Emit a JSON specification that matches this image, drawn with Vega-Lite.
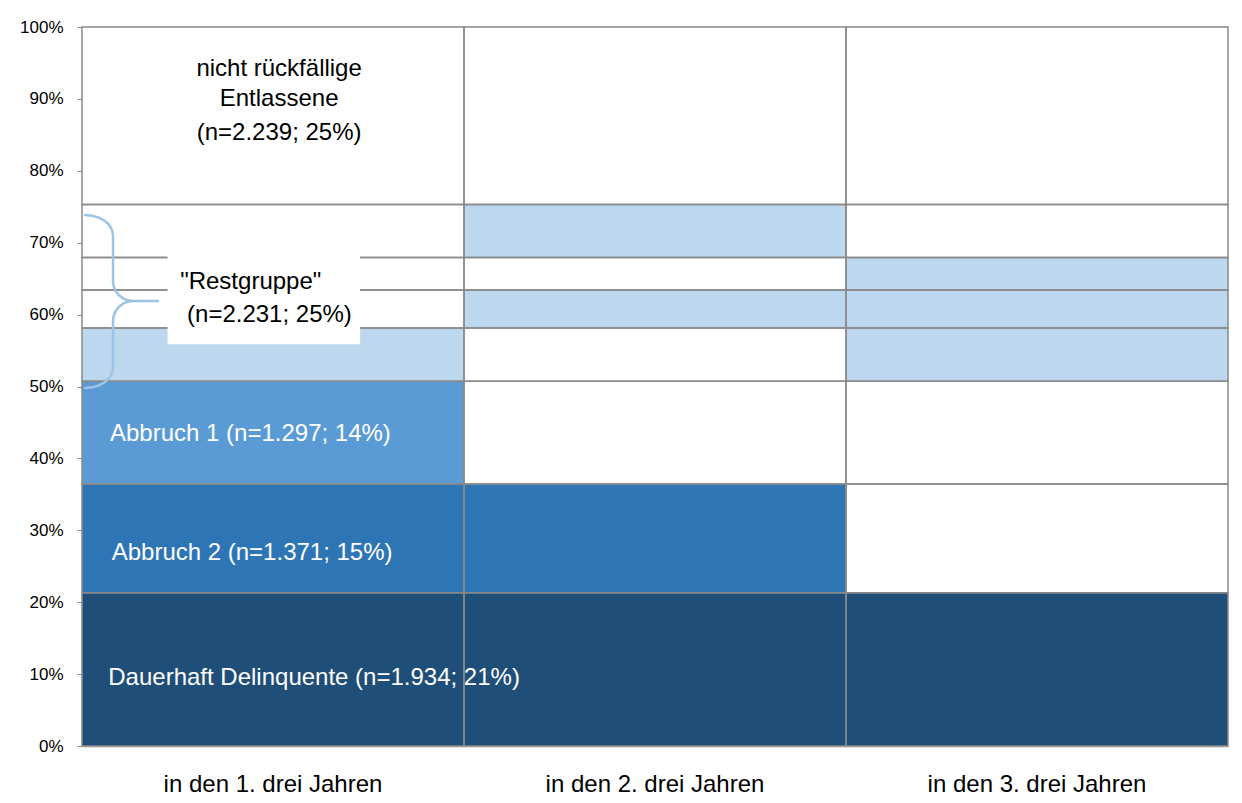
{
  "$schema": "https://vega.github.io/schema/vega-lite/v6.json",
  "width": 1146,
  "height": 719,
  "autosize": {"type": "none"},
  "padding": {"left": 82, "top": 27, "right": 14, "bottom": 57},
  "background": "#ffffff",
  "config": {"view": {"stroke": null}, "font": "Liberation Sans"},
  "datasets": {
    "segmente": [
      {"period": "in den 1. drei Jahren", "ord": 1, "gruppe": "Dauerhaft Delinquente", "anteil": 21.32, "status": "Dauerhaft Delinquente"},
      {"period": "in den 1. drei Jahren", "ord": 2, "gruppe": "Abbruch 2", "anteil": 15.11, "status": "Abbruch 2"},
      {"period": "in den 1. drei Jahren", "ord": 3, "gruppe": "Abbruch 1", "anteil": 14.30, "status": "Abbruch 1"},
      {"period": "in den 1. drei Jahren", "ord": 4, "gruppe": "Rest A", "anteil": 7.40, "status": "Restgruppe"},
      {"period": "in den 1. drei Jahren", "ord": 5, "gruppe": "Rest B", "anteil": 5.30, "status": "nicht rückfällig"},
      {"period": "in den 1. drei Jahren", "ord": 6, "gruppe": "Rest C", "anteil": 4.50, "status": "nicht rückfällig"},
      {"period": "in den 1. drei Jahren", "ord": 7, "gruppe": "Rest D", "anteil": 7.39, "status": "nicht rückfällig"},
      {"period": "in den 1. drei Jahren", "ord": 8, "gruppe": "nicht rückfällige Entlassene", "anteil": 24.68, "status": "nicht rückfällig"},
      {"period": "in den 2. drei Jahren", "ord": 1, "gruppe": "Dauerhaft Delinquente", "anteil": 21.32, "status": "Dauerhaft Delinquente"},
      {"period": "in den 2. drei Jahren", "ord": 2, "gruppe": "Abbruch 2", "anteil": 15.11, "status": "Abbruch 2"},
      {"period": "in den 2. drei Jahren", "ord": 3, "gruppe": "Abbruch 1", "anteil": 14.30, "status": "nicht rückfällig"},
      {"period": "in den 2. drei Jahren", "ord": 4, "gruppe": "Rest A", "anteil": 7.40, "status": "nicht rückfällig"},
      {"period": "in den 2. drei Jahren", "ord": 5, "gruppe": "Rest B", "anteil": 5.30, "status": "Restgruppe"},
      {"period": "in den 2. drei Jahren", "ord": 6, "gruppe": "Rest C", "anteil": 4.50, "status": "nicht rückfällig"},
      {"period": "in den 2. drei Jahren", "ord": 7, "gruppe": "Rest D", "anteil": 7.39, "status": "Restgruppe"},
      {"period": "in den 2. drei Jahren", "ord": 8, "gruppe": "nicht rückfällige Entlassene", "anteil": 24.68, "status": "nicht rückfällig"},
      {"period": "in den 3. drei Jahren", "ord": 1, "gruppe": "Dauerhaft Delinquente", "anteil": 21.32, "status": "Dauerhaft Delinquente"},
      {"period": "in den 3. drei Jahren", "ord": 2, "gruppe": "Abbruch 2", "anteil": 15.11, "status": "nicht rückfällig"},
      {"period": "in den 3. drei Jahren", "ord": 3, "gruppe": "Abbruch 1", "anteil": 14.30, "status": "nicht rückfällig"},
      {"period": "in den 3. drei Jahren", "ord": 4, "gruppe": "Rest A", "anteil": 7.40, "status": "Restgruppe"},
      {"period": "in den 3. drei Jahren", "ord": 5, "gruppe": "Rest B", "anteil": 5.30, "status": "Restgruppe"},
      {"period": "in den 3. drei Jahren", "ord": 6, "gruppe": "Rest C", "anteil": 4.50, "status": "Restgruppe"},
      {"period": "in den 3. drei Jahren", "ord": 7, "gruppe": "Rest D", "anteil": 7.39, "status": "nicht rückfällig"},
      {"period": "in den 3. drei Jahren", "ord": 8, "gruppe": "nicht rückfällige Entlassene", "anteil": 24.68, "status": "nicht rückfällig"}
    ],
    "labels_weiss": [
      {"text": "Dauerhaft Delinquente (n=1.934; 21%)", "ax": 0.0688, "ay": 8.48},
      {"text": "Abbruch 2 (n=1.371; 15%)", "ax": 0.0777, "ay": 25.87},
      {"text": "Abbruch 1 (n=1.297; 14%)", "ax": 0.0733, "ay": 42.46}
    ],
    "labels_nicht": [
      {"text": "nicht rückfällige", "ax": 0.516, "ay": 93.2},
      {"text": "Entlassene", "ax": 0.516, "ay": 89.0},
      {"text": "(n=2.239; 25%)", "ax": 0.516, "ay": 84.35}
    ],
    "box": [
      {"x1": 0.224, "x2": 0.728, "y1": 55.87, "y2": 68.15}
    ],
    "labels_rest": [
      {"text": "\"Restgruppe\"", "ax": 0.257, "ay": 63.56},
      {"text": "(n=2.231; 25%)", "ax": 0.275, "ay": 59.01}
    ],
    "klammer": [
      {"i": 1, "bx": 0.00785, "by": 73.85},
      {"i": 2, "bx": 0.02683, "by": 73.76},
      {"i": 3, "bx": 0.04450, "by": 73.48},
      {"i": 4, "bx": 0.05969, "by": 73.04},
      {"i": 5, "bx": 0.07134, "by": 72.46},
      {"i": 6, "bx": 0.07866, "by": 71.79},
      {"i": 7, "bx": 0.08115, "by": 71.07},
      {"i": 8, "bx": 0.08115, "by": 64.67},
      {"i": 9, "bx": 0.08293, "by": 63.95},
      {"i": 10, "bx": 0.08817, "by": 63.28},
      {"i": 11, "bx": 0.09649, "by": 62.71},
      {"i": 12, "bx": 0.10733, "by": 62.26},
      {"i": 13, "bx": 0.11995, "by": 61.99},
      {"i": 14, "bx": 0.13351, "by": 61.89},
      {"i": 15, "bx": 0.19895, "by": 61.89},
      {"i": 16, "bx": 0.13351, "by": 61.89},
      {"i": 17, "bx": 0.11995, "by": 61.80},
      {"i": 18, "bx": 0.10733, "by": 61.52},
      {"i": 19, "bx": 0.09649, "by": 61.08},
      {"i": 20, "bx": 0.08817, "by": 60.50},
      {"i": 21, "bx": 0.08293, "by": 59.83},
      {"i": 22, "bx": 0.08115, "by": 59.11},
      {"i": 23, "bx": 0.08115, "by": 52.57},
      {"i": 24, "bx": 0.07866, "by": 51.85},
      {"i": 25, "bx": 0.07134, "by": 51.18},
      {"i": 26, "bx": 0.05969, "by": 50.61},
      {"i": 27, "bx": 0.04450, "by": 50.16},
      {"i": 28, "bx": 0.02683, "by": 49.89},
      {"i": 29, "bx": 0.00785, "by": 49.79}
    ]
  },
  "layer": [
    {
      "data": {"name": "segmente"},
      "mark": {"type": "bar"},
      "encoding": {
        "x": {
          "field": "period", "type": "nominal", "sort": null,
          "scale": {"paddingInner": 0, "paddingOuter": 0},
          "axis": {
            "title": null, "labelAngle": 0, "ticks": false, "tickSize": 0,
            "domainColor": "#c8c8c8", "domainWidth": 2, "labelLimit": 0,
            "labelPadding": 26, "labelFontSize": 24, "labelColor": "#000000",
            "labelFont": "Liberation Sans"
          }
        },
        "y": {
          "field": "anteil", "type": "quantitative", "stack": "zero",
          "scale": {"domain": [0, 100], "nice": false},
          "axis": {
            "title": null, "grid": false,
            "values": [0, 10, 20, 30, 40, 50, 60, 70, 80, 90, 100],
            "labelExpr": "datum.value + '%'",
            "domainColor": "#868686", "tickColor": "#868686", "tickSize": 5,
            "labelPadding": 14, "labelFontSize": 17, "labelColor": "#000000",
            "labelFont": "Liberation Sans"
          }
        },
        "order": {"field": "ord", "type": "quantitative"},
        "color": {
          "field": "status", "type": "nominal", "legend": null,
          "scale": {
            "domain": ["Dauerhaft Delinquente", "Abbruch 2", "Abbruch 1", "Restgruppe", "nicht rückfällig"],
            "range": ["#1F4E79", "#2E75B6", "#5B9BD5", "#BDD7EE", "#FFFFFF"]
          }
        }
      }
    },
    {
      "data": {"name": "labels_weiss"},
      "mark": {"type": "text", "align": "left", "baseline": "alphabetic", "fontSize": 24, "font": "Liberation Sans", "color": "#ffffff"},
      "encoding": {
        "x": {"field": "ax", "type": "quantitative", "scale": {"domain": [0, 3], "nice": false, "zero": false}, "axis": null},
        "y": {"field": "ay", "type": "quantitative", "scale": {"domain": [0, 100], "nice": false}, "axis": null},
        "text": {"field": "text"}
      }
    },
    {
      "data": {"name": "segmente"},
      "mark": {"type": "bar", "fillOpacity": 0, "stroke": "#898989", "strokeWidth": 1.5},
      "encoding": {
        "x": {"field": "period", "type": "nominal", "sort": null, "scale": {"paddingInner": 0, "paddingOuter": 0}, "axis": null},
        "y": {"field": "anteil", "type": "quantitative", "stack": "zero", "scale": {"domain": [0, 100], "nice": false}, "axis": null},
        "order": {"field": "ord", "type": "quantitative"}
      }
    },
    {
      "data": {"name": "labels_nicht"},
      "mark": {"type": "text", "align": "center", "baseline": "alphabetic", "fontSize": 24, "font": "Liberation Sans", "color": "#000000"},
      "encoding": {
        "x": {"field": "ax", "type": "quantitative", "scale": {"domain": [0, 3], "nice": false, "zero": false}, "axis": null},
        "y": {"field": "ay", "type": "quantitative", "scale": {"domain": [0, 100], "nice": false}, "axis": null},
        "text": {"field": "text"}
      }
    },
    {
      "data": {"name": "box"},
      "mark": {"type": "rect", "fill": "#ffffff", "stroke": null},
      "encoding": {
        "x": {"field": "x1", "type": "quantitative", "scale": {"domain": [0, 3], "nice": false, "zero": false}, "axis": null},
        "x2": {"field": "x2"},
        "y": {"field": "y1", "type": "quantitative", "scale": {"domain": [0, 100], "nice": false}, "axis": null},
        "y2": {"field": "y2"}
      }
    },
    {
      "data": {"name": "klammer"},
      "mark": {"type": "line", "interpolate": "linear", "stroke": "#9DC3E6", "strokeWidth": 2.5, "strokeCap": "round", "strokeJoin": "round"},
      "encoding": {
        "x": {"field": "bx", "type": "quantitative", "scale": {"domain": [0, 3], "nice": false, "zero": false}, "axis": null},
        "y": {"field": "by", "type": "quantitative", "scale": {"domain": [0, 100], "nice": false}, "axis": null},
        "order": {"field": "i", "type": "quantitative"}
      }
    },
    {
      "data": {"name": "labels_rest"},
      "mark": {"type": "text", "align": "left", "baseline": "alphabetic", "fontSize": 24, "font": "Liberation Sans", "color": "#000000"},
      "encoding": {
        "x": {"field": "ax", "type": "quantitative", "scale": {"domain": [0, 3], "nice": false, "zero": false}, "axis": null},
        "y": {"field": "ay", "type": "quantitative", "scale": {"domain": [0, 100], "nice": false}, "axis": null},
        "text": {"field": "text"}
      }
    }
  ],
  "resolve": {"scale": {"x": "independent", "y": "independent"}}
}
